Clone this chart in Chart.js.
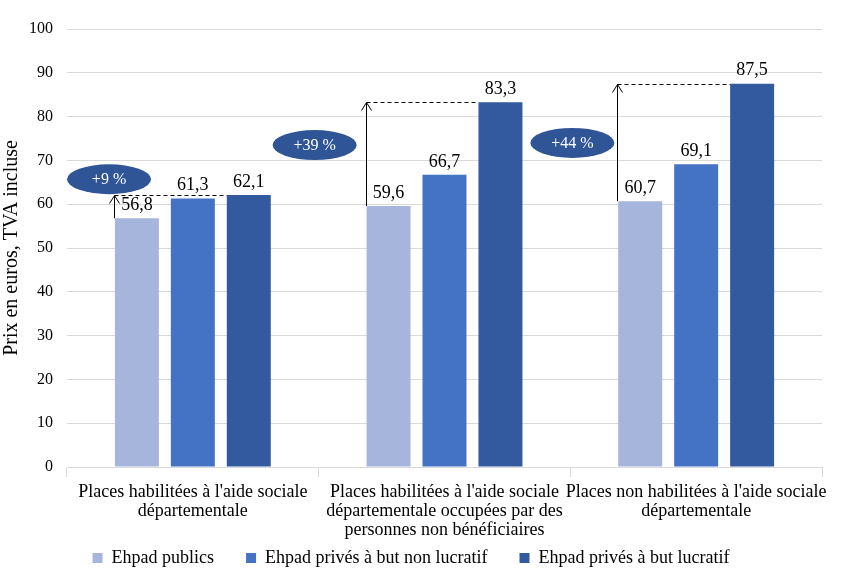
<!DOCTYPE html>
<html>
<head>
<meta charset="utf-8">
<script src="https://cdn.jsdelivr.net/npm/chart.js@4.4.1/dist/chart.umd.min.js"></script>
<style>
  html, body { margin: 0; background: #fff; }
  #wrap { width: 843px; height: 582px; }
</style>
</head>
<body>
<div id="wrap"><canvas id="chart"></canvas></div>
<script>
// Data
const categories = [
  ["Places habilitées à l'aide sociale", 'départementale'],
  ["Places habilitées à l'aide sociale", 'départementale occupées par des', 'personnes non bénéficiaires'],
  ["Places non habilitées à l'aide sociale", 'départementale'],
];
const seriesNames = ['Ehpad publics', 'Ehpad privés à but non lucratif', 'Ehpad privés à but lucratif'];
const publics = [56.8, 59.6, 60.7];
const nonLucratif = [61.3, 66.7, 69.1];
const lucratif = [62.1, 83.3, 87.5];
const gapLabels = ['+9 %', '+39 %', '+44 %'];

const FONT = "'Liberation Serif', 'DejaVu Serif', serif";
const COLORS = ['#A6B5DB', '#4472C4', '#335A9F'];
const GRID = '#d9d9d9';

// bubble centres: offset in category widths from category centre, y in axis units
const bubbles = [
  { dx: -0.333, y: 65.7 },
  { dx: -0.516, y: 73.5 },
  { dx: -0.492, y: 74.0 },
];

const fmt = v => v.toFixed(1).replace('.', ',');

const annotations = {
  id: 'annotations',
  afterDatasetsDraw(chart) {
    const { ctx, scales: { x, y } } = chart;
    const m0 = chart.getDatasetMeta(0).data;
    const m2 = chart.getDatasetMeta(2).data;
    ctx.save();

    // value labels
    ctx.font = `18px ${FONT}`;
    ctx.fillStyle = '#000';
    ctx.textAlign = 'center';
    ctx.textBaseline = 'bottom';
    chart.data.datasets.forEach((ds, di) => {
      chart.getDatasetMeta(di).data.forEach((bar, i) => {
        ctx.fillText(fmt(ds.data[i]), bar.x, bar.y - 4);
      });
    });

    // arrows + dashed lines
    ctx.strokeStyle = '#000';
    ctx.lineWidth = 1;
    categories.forEach((c, i) => {
      const ax = Math.round(m0[i].x - m0[i].width / 2) - 0.5;
      const yTop = Math.round(m2[i].y) + 0.5;
      const yBot = m0[i].y;
      ctx.setLineDash([]);
      ctx.beginPath();
      ctx.moveTo(ax, yBot);
      ctx.lineTo(ax, yTop);
      ctx.moveTo(ax - 5, yTop + 8);
      ctx.lineTo(ax, yTop);
      ctx.lineTo(ax + 5, yTop + 8);
      ctx.stroke();
      ctx.setLineDash([4, 3]);
      ctx.beginPath();
      ctx.moveTo(ax, yTop);
      ctx.lineTo(m2[i].x - m2[i].width / 2, yTop);
      ctx.stroke();
    });
    ctx.setLineDash([]);

    // bubbles
    const catW = x.width / categories.length;
    bubbles.forEach((b, i) => {
      const cx = x.getPixelForValue(i) + b.dx * catW;
      const cy = y.getPixelForValue(b.y);
      ctx.fillStyle = '#2F5597';
      ctx.beginPath();
      ctx.ellipse(cx, cy, 42, 15, 0, 0, Math.PI * 2);
      ctx.fill();
      ctx.fillStyle = '#fff';
      ctx.font = `16px ${FONT}`;
      ctx.textBaseline = 'middle';
      ctx.fillText(gapLabels[i], cx, cy + 1);
    });
    ctx.restore();
  },
};

// x labels need 3 lines, so the legend is pulled up into the spare room below them
const liftLegend = {
  id: 'liftLegend',
  afterLayout(chart) {
    const lg = chart.legend;
    if (!lg) return;
    lg.top -= 23;
    lg.bottom -= 23;
  },
};

new Chart(document.getElementById('chart'), {
  type: 'bar',
  data: {
    labels: categories,
    datasets: [publics, nonLucratif, lucratif].map((d, i) => ({
      label: seriesNames[i],
      data: d,
      backgroundColor: COLORS[i],
      categoryPercentage: 0.667,
      barPercentage: 0.786,
    })),
  },
  options: {
    responsive: true,
    maintainAspectRatio: false,
    animation: false,
    layout: { padding: { top: 29, right: 21, left: 0, bottom: -18 } },
    plugins: {
      legend: {
        position: 'bottom',
        labels: {
          color: '#000',
          font: { family: FONT, size: 18 },
          boxWidth: 10,
          boxHeight: 10,
          padding: 32,
        },
      },
      tooltip: { enabled: false },
    },
    scales: {
      y: {
        min: 0,
        max: 100,
        ticks: { stepSize: 10, color: '#000', font: { family: FONT, size: 16 }, padding: 14 },
        grid: { color: GRID, drawTicks: false },
        border: { display: false },
        title: {
          display: true,
          text: 'Prix en euros, TVA incluse',
          color: '#000',
          font: { family: FONT, size: 20 },
          padding: { top: 0, bottom: 4 },
        },
        afterFit(scale) { scale.width = 67; },
      },
      x: {
        ticks: { color: '#000', font: { family: FONT, size: 18, lineHeight: 1.05 }, maxRotation: 0, autoSkip: false, padding: 6 },
        grid: { color: GRID, drawOnChartArea: false, tickLength: 10, offset: true },
        border: { color: GRID },
        afterFit(scale) { scale.height = 73; },
      },
    },
  },
  plugins: [annotations, liftLegend],
});
</script>
</body>
</html>
